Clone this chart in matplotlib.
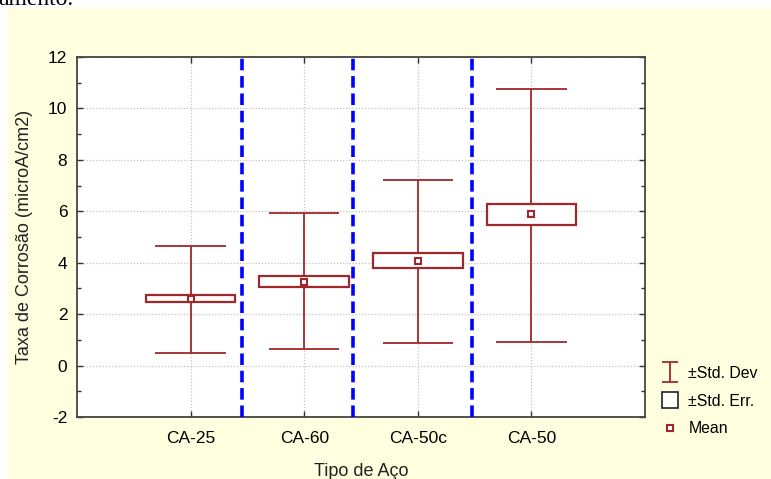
import numpy as np
import matplotlib.pyplot as plt
from matplotlib.lines import Line2D
from matplotlib.patches import Rectangle
from matplotlib.path import Path

# dados
categorias = ["CA-25", "CA-60", "CA-50c", "CA-50"]
medias = [2.58, 3.25, 4.07, 5.88]
dp_inf = [0.48, 0.63, 0.86, 0.92]
dp_sup = [4.65, 5.92, 7.22, 10.75]
ep_inf = [2.46, 3.07, 3.80, 5.46]
ep_sup = [2.75, 3.48, 4.38, 6.28]
divisorias = [1.45, 2.43, 3.48]

vermelho = "#A0282A"
fundo = "#FFFEDE"
plt.rcParams["font.family"] = ["Liberation Sans", "DejaVu Sans"]
plt.rcParams["axes.unicode_minus"] = False

fig = plt.figure(figsize=(7.71, 4.79), dpi=100)
fig.patch.set_facecolor("white")
fig.add_artist(Rectangle((7 / 771, 0), 1, (479 - 8) / 479, transform=fig.transFigure,
                         facecolor=fundo, edgecolor="none", zorder=0))
fig.text(-0.003, (479 - 5) / 479, "amento.", family="Liberation Serif", fontsize=17,
         va="baseline", ha="left")

ax = fig.add_axes([77 / 771, (479 - 417) / 479, (645 - 77) / 771, (417 - 57) / 479])
ax.set_facecolor("white")

x = np.arange(1, len(categorias) + 1)

# desvio padrão
ax.vlines(x, dp_inf, dp_sup, color=vermelho, lw=1.3, zorder=3)
ax.hlines(dp_inf, x - 0.31, x + 0.31, color=vermelho, lw=1.3, zorder=3)
ax.hlines(dp_sup, x - 0.31, x + 0.31, color=vermelho, lw=1.3, zorder=3)
# erro padrão
ax.bar(x, np.array(ep_sup) - np.array(ep_inf), bottom=ep_inf, width=0.79,
       facecolor="white", edgecolor=vermelho, lw=1.6, zorder=4)
# média
ax.plot(x, medias, "s", ms=5, mfc="white", mec=vermelho, mew=1.5, zorder=5)

for d in divisorias:
    ax.axvline(d, color="#0000FF", lw=2.6, dashes=(3.2, 1.6), zorder=6)

ax.set_xlim(0, 5)
ax.set_ylim(-2, 12)
ax.set_xticks(x)
ax.set_xticklabels(categorias)
ax.set_yticks(np.arange(-2, 13, 2))
ax.set_yticks(np.arange(-2, 13, 1), minor=True)
ax.tick_params(which="both", direction="in", top=True, right=True, length=4,
               width=1, color="#333333", labelsize=12.5, pad=7)
ax.tick_params(axis="x", pad=10)
ax.tick_params(which="minor", length=3)
ax.grid(True, which="major", ls=(0, (1, 1.5)), color="#C4C4C4", lw=0.9)
for s in ax.spines.values():
    s.set_color("#444444")
    s.set_linewidth(1.3)

ax.set_xlabel("Tipo de Aço", fontsize=13, labelpad=12, color="#222222")
ax.set_ylabel("Taxa de Corrosão (microA/cm2)", fontsize=13, labelpad=11, color="#222222")

# legenda
ibeam = Path([(-0.4, 0.5), (0.4, 0.5), (0, 0.5), (0, -0.5), (-0.4, -0.5), (0.4, -0.5)],
             [Path.MOVETO, Path.LINETO, Path.MOVETO, Path.LINETO, Path.MOVETO, Path.LINETO])
handles = [
    Line2D([], [], ls="none", marker=ibeam, ms=15, mec=vermelho, mew=1.3),
    Line2D([], [], ls="none", marker="s", ms=12, mfc="white", mec="#333333", mew=1.3),
    Line2D([], [], ls="none", marker="s", ms=4.5, mfc="white", mec=vermelho, mew=1.5),
]
fig.legend(handles, ["±Std. Dev", "±Std. Err.", "Mean"], loc="upper left",
           bbox_to_anchor=(660 / 771, (479 - 366) / 479), frameon=False,
           fontsize=11.4, handlelength=1.2, handletextpad=0.6, labelspacing=0.8,
           borderaxespad=0, borderpad=0)

fig.savefig("out.png", dpi=100, facecolor=fig.get_facecolor())
